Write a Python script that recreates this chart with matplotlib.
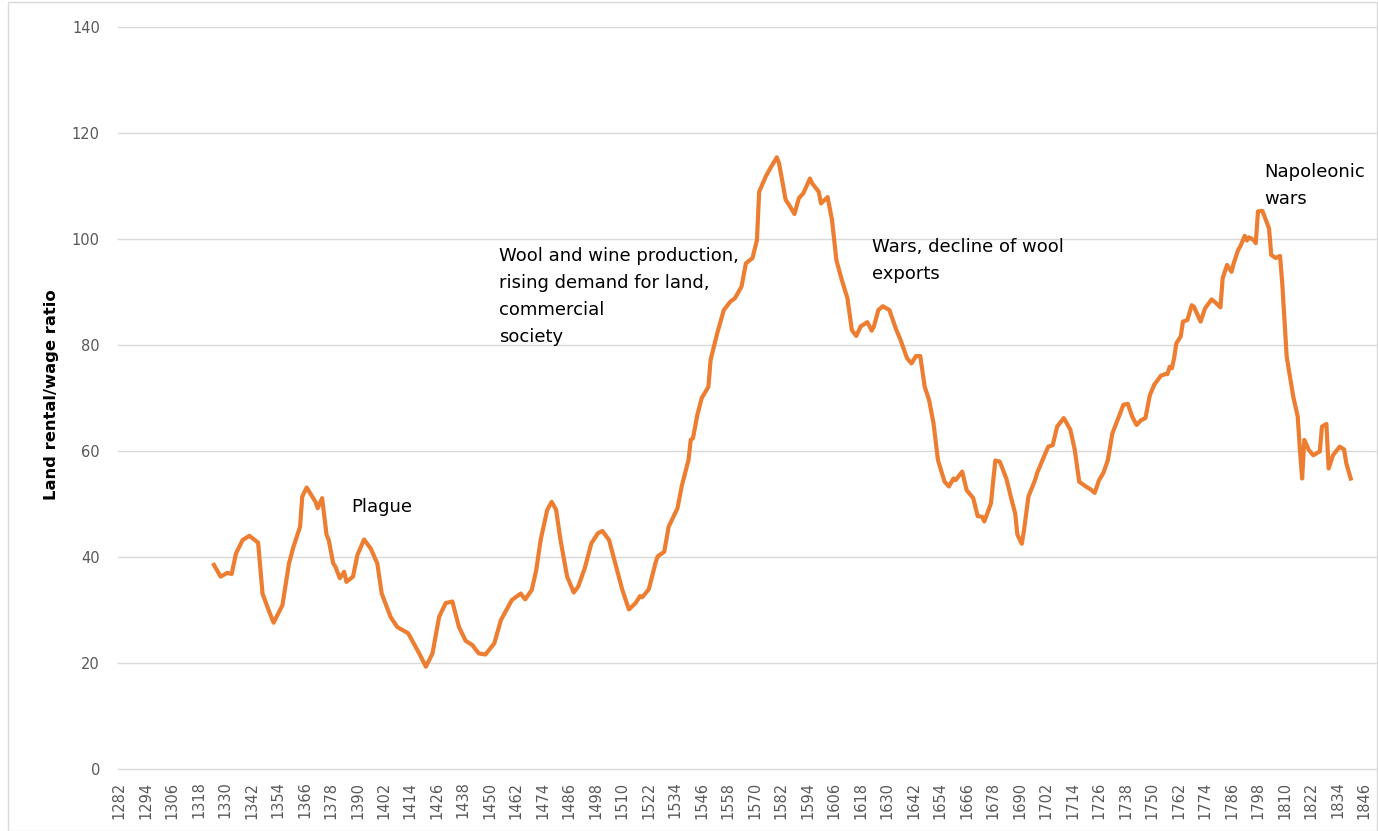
import matplotlib.pyplot as plt
from matplotlib.patches import Rectangle

# land rental / wage ratio
years = [1325, 1328, 1331, 1333, 1335, 1338, 1341, 1345, 1347, 1350, 1352, 1356, 1359, 1361,
         1364, 1365, 1367, 1371, 1372, 1374, 1376, 1377, 1379, 1380, 1382, 1384, 1385, 1388,
         1390, 1393, 1396, 1399, 1401, 1405, 1408, 1413, 1418, 1421, 1424, 1427, 1430, 1433,
         1436, 1439, 1442, 1445, 1448, 1452, 1455, 1460, 1464, 1466, 1469, 1471, 1473, 1476,
         1478, 1480, 1482, 1485, 1488, 1490, 1493, 1496, 1499, 1501, 1504, 1507, 1510, 1513,
         1516, 1518, 1519, 1522, 1525, 1526, 1529, 1531, 1535, 1537, 1540, 1541, 1542, 1544,
         1546, 1549, 1550, 1553, 1556, 1559, 1561, 1564, 1566, 1569, 1571, 1572, 1575, 1577,
         1580, 1581, 1584, 1586, 1588, 1590, 1592, 1595, 1596, 1599, 1600, 1603, 1605, 1607,
         1609, 1612, 1614, 1616, 1618, 1621, 1623, 1624, 1626, 1628, 1631, 1634, 1636, 1639,
         1641, 1643, 1645, 1647, 1649, 1651, 1653, 1656, 1658, 1660, 1661, 1664, 1666, 1669,
         1671, 1673, 1674, 1677, 1679, 1681, 1684, 1686, 1688, 1689, 1691, 1692, 1694, 1697,
         1698, 1701, 1703, 1705, 1707, 1710, 1711, 1713, 1715, 1717, 1720, 1722, 1724, 1726,
         1728, 1730, 1732, 1735, 1737, 1739, 1741, 1743, 1745, 1747, 1749, 1751, 1754, 1756,
         1757, 1758, 1759, 1760, 1761, 1763, 1764, 1766, 1768, 1769, 1771, 1772, 1774, 1777,
         1779, 1781, 1782, 1784, 1786, 1787, 1789, 1790, 1792, 1793, 1794, 1796, 1797, 1798,
         1800, 1803, 1804, 1806, 1808, 1809, 1810, 1811, 1813, 1814, 1816, 1817, 1818, 1819,
         1821, 1823, 1826, 1827, 1829, 1830, 1832, 1835, 1837, 1838, 1840]
ratio = [38.5, 36.3, 37.0, 36.8, 40.7, 43.2, 44.0, 42.7, 33.1, 29.7, 27.6, 30.9, 38.8, 41.9,
         45.7, 51.4, 53.1, 50.4, 49.2, 51.1, 44.2, 43.2, 38.8, 38.2, 36.0, 37.2, 35.3, 36.3,
         40.4, 43.3, 41.6, 38.8, 33.1, 28.7, 26.8, 25.6, 21.8, 19.3, 21.8, 28.7, 31.3, 31.6,
         26.8, 24.2, 23.4, 21.8, 21.6, 23.7, 28.1, 31.9, 33.1, 32.0, 33.8, 37.5, 43.2, 48.9,
         50.4, 48.9, 43.2, 36.3, 33.3, 34.4, 37.9, 42.6, 44.5, 44.9, 43.2, 38.5, 33.8, 30.1,
         31.3, 32.6, 32.4, 33.9, 38.8, 40.1, 41.0, 45.7, 49.2, 53.5, 58.3, 62.1, 62.4, 66.8,
         70.0, 72.1, 77.2, 82.2, 86.6, 88.2, 88.8, 91.0, 95.4, 96.4, 99.8, 108.9, 111.8, 113.3,
         115.4, 114.3, 107.4, 106.1, 104.7, 107.7, 108.6, 111.4, 110.5, 108.9, 106.7, 107.9, 103.6, 96.0,
         92.9, 88.8, 82.8, 81.7, 83.5, 84.3, 82.7, 83.5, 86.6, 87.3, 86.6, 83.0, 81.0, 77.5,
         76.5, 77.9, 77.9, 72.1, 69.6, 65.2, 58.3, 54.2, 53.3, 54.8, 54.5, 56.1, 52.6, 51.1,
         47.7, 47.6, 46.7, 50.1, 58.2, 58.0, 54.8, 51.4, 48.2, 44.2, 42.5, 45.1, 51.4, 54.5,
         55.9, 58.9, 60.8, 61.1, 64.6, 66.2, 65.5, 64.0, 60.2, 54.2, 53.3, 52.8, 52.1, 54.5,
         55.9, 58.3, 63.3, 66.5, 68.7, 68.9, 66.5, 64.9, 65.8, 66.2, 70.5, 72.5, 74.2, 74.5,
         74.5, 75.9, 75.6, 77.5, 80.3, 81.6, 84.4, 84.7, 87.5, 87.2, 85.3, 84.4, 86.9, 88.6,
         87.9, 87.1, 92.6, 95.1, 93.8, 95.4, 97.9, 98.6, 100.6, 99.7, 100.3, 99.8, 99.2, 105.2,
         105.3, 102.0, 97.0, 96.4, 96.8, 91.6, 84.7, 77.8, 72.8, 70.2, 66.5, 60.2, 54.8, 62.1,
         60.2, 59.2, 59.9, 64.6, 65.1, 56.7, 59.2, 60.8, 60.3, 57.7, 54.8]

tick_years = list(range(1282, 1847, 12))
y_ticks = [0, 20, 40, 60, 80, 100, 120, 140]

notes = ["Plague",
         "Wool and wine production,\nrising demand for land,\ncommercial\nsociety",
         "Wars, decline of wool\nexports",
         "Napoleonic\nwars"]
note_x = [1387, 1454, 1623, 1801]
note_y = [49.4, 89.1, 96.0, 110.0]

fig = plt.figure(figsize=(13.78, 8.31), dpi=100)
ax = fig.add_axes([0.0856, 0.0746, 0.913, 0.893])

ax.plot(years, ratio, color="#ED7D31", lw=3.0, solid_joinstyle="round")

ax.set_xlim(1281.5, 1851.5)
ax.set_ylim(0, 140)
ax.set_yticks(y_ticks)
ax.set_xticks(tick_years)
ax.set_xticklabels([str(y) for y in tick_years], rotation=90)
ax.grid(axis="y", color="#D9D9D9", lw=1)
for g in ax.get_ygridlines():
    g.set_clip_on(False)
ax.set_axisbelow(True)
for s in ax.spines.values():
    s.set_visible(False)
ax.tick_params(axis="y", length=0, pad=13, labelsize=10.5, labelcolor="#595959")
ax.tick_params(axis="x", length=0, pad=9, labelsize=10.5, labelcolor="#595959")

for t, x, y in zip(notes, note_x, note_y):
    ax.text(x, y, t, ha="left", va="center", fontsize=13, color="black", linespacing=1.64)

fig.text(52 / 1378, 1 - 395 / 831, "Land rental/wage ratio", rotation=90,
         ha="center", va="center", fontsize=11.8, fontweight="bold")

fig.patches.append(Rectangle((8 / 1378, 0), 1 - 9 / 1378, 1 - 2 / 831, transform=fig.transFigure,
                             fill=False, edgecolor="#D9D9D9", lw=1))

fig.savefig("out.png", dpi=100)
